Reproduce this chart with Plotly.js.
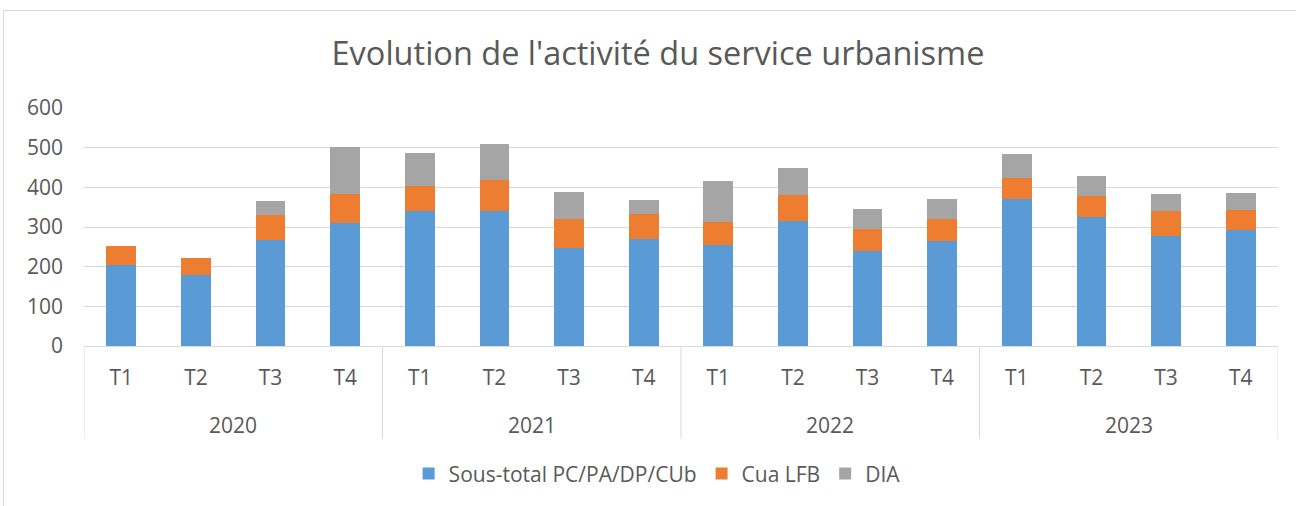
<!DOCTYPE html>
<html>
<head>
<meta charset="utf-8">
<script src="https://cdn.plot.ly/plotly-3.0.1.min.js"></script>
<style>
  html, body { margin: 0; padding: 0; background: #ffffff; overflow: hidden; }
  #chart { position: absolute; left: 0; top: 0; width: 1296px; height: 506px; }
  #frame { position: absolute; left: 3px; top: 10px; width: 1300px; height: 500px;
           border-left: 1px solid #d9d9d9; border-top: 1px solid #d9d9d9; box-sizing: border-box;
           pointer-events: none; }
</style>
</head>
<body>
<div id="chart"></div>
<div id="frame"></div>
<script>
const years = ["2020","2020","2020","2020","2021","2021","2021","2021","2022","2022","2022","2022","2023","2023","2023","2023"];
const quarters = ["T1","T2","T3","T4","T1","T2","T3","T4","T1","T2","T3","T4","T1","T2","T3","T4"];
const sousTotal = [204, 180, 268, 309, 340, 340, 248, 269, 255, 315, 240, 264, 370, 324, 278, 292];
const cuaLFB    = [49, 42, 63, 73, 64, 78, 71, 64, 58, 65, 55, 56, 54, 54, 62, 50];
const dia       = [0, 0, 34, 119, 83, 90, 70, 36, 104, 68, 51, 51, 59, 51, 43, 43];
const seriesNames = ["Sous-total PC/PA/DP/CUb", "Cua LFB", "DIA"];
const yTicks = [0, 100, 200, 300, 400, 500, 600];

const colors = ["#5B9BD5", "#ED7D31", "#A5A5A5"];
const txt = "#595959";
const lineCol = "#d9d9d9";
const fontFam = "'Open Sans', sans-serif";
const fs = 21;

// category positions along the axis (one slot per quarter)
const pos = quarters.map((_, i) => i);

const traces = [sousTotal, cuaLFB, dia].map((vals, i) => ({
  type: "bar",
  x: pos,
  y: vals,
  name: seriesNames[i],
  marker: { color: colors[i], line: { width: 0 } },
  hovertemplate: "%{y}<extra>" + seriesNames[i] + "</extra>"
}));

// year groups: centre of each group and boundaries between groups
const groupNames = [...new Set(years)];
const annotations = [];
const shapes = [];
const divBottom = -0.39;
groupNames.forEach((g) => {
  const idx = pos.filter(i => years[i] === g);
  const first = idx[0], last = idx[idx.length - 1];
  annotations.push({
    xref: "x", yref: "paper", x: (first + last) / 2, y: -0.333,
    text: g, showarrow: false, xanchor: "center", yanchor: "middle",
    font: { family: fontFam, size: fs, color: txt }
  });
  shapes.push({
    type: "line", xref: "x", yref: "paper", x0: first - 0.5, x1: first - 0.5, y0: 0, y1: divBottom,
    line: { color: lineCol, width: 1 }
  });
  if (g === groupNames[groupNames.length - 1]) {
    shapes.push({
      type: "line", xref: "x", yref: "paper", x0: last + 0.5, x1: last + 0.5, y0: 0, y1: divBottom,
      line: { color: lineCol, width: 1 }
    });
  }
});

const layout = {
  width: 1296, height: 506,
  barmode: "stack",
  bargap: 0.6,
  paper_bgcolor: "rgba(0,0,0,0)",
  plot_bgcolor: "rgba(0,0,0,0)",
  margin: { l: 84, r: 18, t: 108, b: 158 },
  font: { family: fontFam, color: txt, size: fs },
  title: {
    text: "Evolution de l'activité du service urbanisme",
    font: { family: fontFam, size: 32.5, color: txt },
    xref: "container", yref: "container",
    x: 0.5077, xanchor: "center", y: 0.894, yanchor: "middle"
  },
  xaxis: {
    range: [-0.5, quarters.length - 0.5],
    tickvals: pos,
    ticktext: quarters,
    showline: true, linecolor: lineCol, linewidth: 1,
    ticks: "", showgrid: false, zeroline: false,
    tickfont: { family: fontFam, size: fs, color: txt },
    ticklabelstandoff: 13
  },
  yaxis: {
    range: [0, 600],
    tickvals: yTicks,
    ticktext: yTicks.map(String),
    showgrid: true, gridcolor: lineCol, gridwidth: 1,
    zeroline: false, showline: false, ticks: "",
    tickfont: { family: fontFam, size: fs, color: txt },
    ticklabelstandoff: 20
  },
  legend: {
    orientation: "h", x: 0.48, xanchor: "center", y: -0.5375, yanchor: "middle",
    font: { family: fontFam, size: fs, color: txt },
    traceorder: "normal", itemwidth: 30
  },
  showlegend: true,
  annotations: annotations,
  shapes: shapes
};

Plotly.newPlot("chart", traces, layout, { displayModeBar: false });
</script>
</body>
</html>
